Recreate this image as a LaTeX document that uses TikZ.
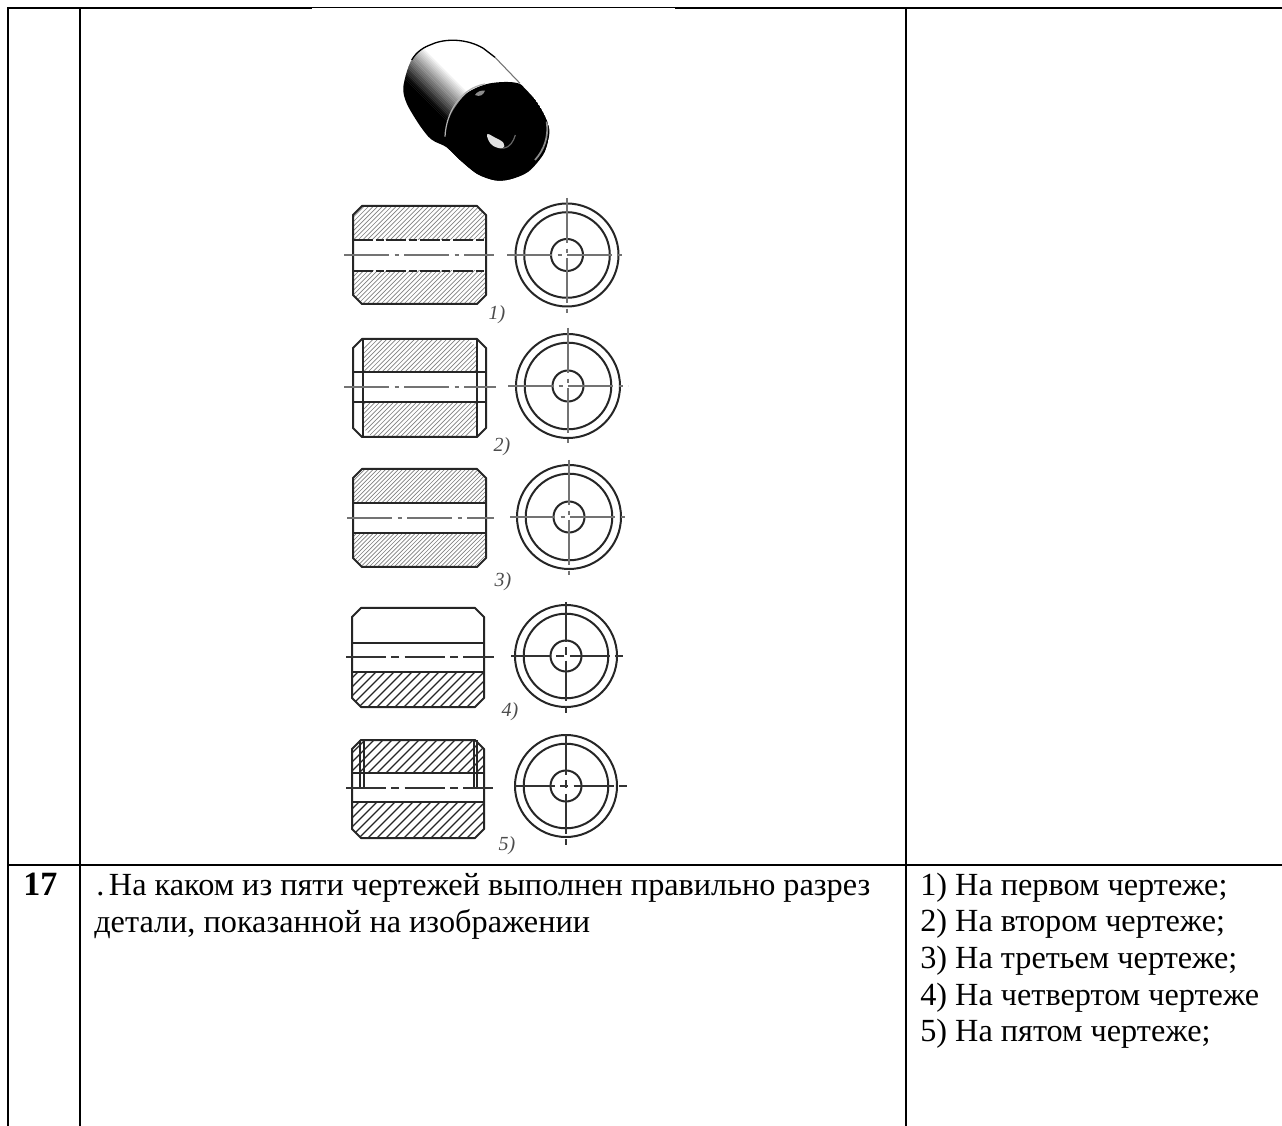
\documentclass[tikz,border=0pt]{standalone}
\usepackage{fontspec}
\setmainfont{Liberation Serif}
\tikzset{
  rule/.style={line width=1.5pt,black},
  thinrule/.style={line width=0.9pt,black},
  celltext/.style={anchor=base west,inner sep=0pt,font=\fontsize{24.2}{29}\selectfont,text=black},
  boldtext/.style={anchor=base west,inner sep=0pt,font=\fontsize{25.5}{30}\selectfont\bfseries,text=black},
  figlabel/.style={inner sep=0pt,font=\fontsize{15}{17}\selectfont\itshape,text=black!70},
  outline/.style={line width=1.5pt,black!85,line join=round},
  holeline/.style={line width=1.5pt,black!85},
  lighthatch/.style={line width=0.5pt,black!50},
  darkhatch/.style={line width=0.9pt,black!85},
  axisgray/.style={line width=0.9pt,black!55,dash pattern=on 34pt off 4pt on 3pt off 4pt},
  axisdark/.style={line width=1pt,black!80,dash pattern=on 30pt off 4pt on 6pt off 4pt},
}
% x1 x2 y1 y2 ya yb pitch style
\newcommand\hatchband[8]{%
  \begin{scope}
    \clip (#1+9,#3) -- (#2-9,#3) -- (#2,#3+9) -- (#2,#4-9) -- (#2-9,#4) -- (#1+9,#4) -- (#1,#4-9) -- (#1,#3+9) -- cycle;
    \clip (#1,#5) rectangle (#2,#6);
    \foreach \i in {0,...,60} \draw[#8] (#1-110+\i*#7,#6) -- ++(120,-120);
  \end{scope}}
\newcommand\bodyoutline[4]{%
  \draw[outline] (#1+9,#3) -- (#2-9,#3) -- (#2,#3+9) -- (#2,#4-9) -- (#2-9,#4) -- (#1+9,#4) -- (#1,#4-9) -- (#1,#3+9) -- cycle;}
% cx cy R r xa xb ya yb axisstyle
\newcommand\roundview[9]{%
  \draw[outline] (#1,#2) circle (#3);
  \draw[outline] (#1,#2) circle (#3-8.7);
  \draw[outline] (#1,#2) circle (#4);
  \draw[#9] (#5,#2) -- (#6,#2);
  \draw[#9] (#1,#7) -- (#1,#8);}
\begin{document}
\begin{tikzpicture}[x=0.75pt,y=-0.75pt]
\path[use as bounding box,fill=white] (0,0) rectangle (1282,1126);

% table rules
\draw[rule] (7,8.5) -- (312,8.5);
\draw[thinrule] (312,7.5) -- (675,7.5);
\draw[rule] (675,8.5) -- (1282,8.5);
\draw[rule] (8,8) -- (8,1126);
\draw[rule] (80,8) -- (80,1126);
\draw[rule] (906,8) -- (906,1126);
\draw[rule] (7,864.5) -- (312,864.5);
\draw[thinrule] (312,865) -- (675,865);
\draw[rule] (675,864.5) -- (1282,864.5);

% pictorial view
\begin{scope}[shift={(320,0)},x=0.25pt,y=-0.25pt]
  \begin{scope}
    \clip plot[smooth cycle,tension=0.5] coordinates {(400,120)(470,130)(525,172)(600,250)(650,305)(680,360)(688,400)(672,460)(625,515)(570,538)(525,541)(472,522)(420,480)(380,442)(345,425)(325,410)(295,370)(260,310)(250,260)(275,180)(330,135)};
    \fill[white] (200,80) rectangle (720,560);
    \begin{scope}[rotate around={45:(0,0)}]
      \fill[black] (-100,0) rectangle (12,1000);
      \foreach \i in {0,...,21} {
        \pgfmathtruncatemacro\shadepct{\i*100/21}
        \fill[white!\shadepct!black] (12+\i*5,0) rectangle (17.5+\i*5,1000);
      }
    \end{scope}
    % front face
    \fill[black] plot[smooth cycle,tension=0.5] coordinates {(372,412)(395,340)(440,280)(510,250)(600,252)(660,320)(690,390)(672,465)(625,520)(540,550)(470,525)(400,465)};
  \end{scope}
  \draw[line width=1pt,black] (275,180) .. controls (290,155) and (310,142) .. (335,133) .. controls (375,115) and (440,115) .. (490,145) -- (525,172);
  \draw[line width=0.8pt,black!55] (525,172) -- (600,250);
  \draw[line width=0.9pt,black!30] (375,410) .. controls (378,340) and (420,265) .. (495,252);
  \fill[black!45] (465,285) .. controls (470,275) and (485,270) .. (495,272) .. controls (490,285) and (480,292) .. (465,285) -- cycle;
  \fill[black!12] plot[smooth cycle,tension=0.7] coordinates {(502,402)(520,410)(550,428)(548,445)(520,438)(505,420)};
  \draw[line width=0.9pt,black!60] (550,445) .. controls (570,442) and (580,425) .. (586,405);
  \draw[line width=1.3pt,black!45] (680,365) .. controls (687,410) and (672,450) .. (645,480);
\end{scope}

% view 1
\hatchband{353}{486}{206}{304}{206}{240}{4.6}{lighthatch}
\hatchband{353}{486}{206}{304}{271}{304}{4.6}{lighthatch}
\bodyoutline{353}{486}{206}{304}
\draw[holeline,dash pattern=on 15pt off 2pt on 6pt off 2pt] (353,240.5) -- (486,240.5);
\draw[holeline,dash pattern=on 15pt off 2pt on 6pt off 2pt] (353,271) -- (486,271);
\draw[axisgray] (344,255) -- (494,255);
\roundview{567}{255}{51.5}{16}{507}{626}{198}{313}{axisgray}
\node[figlabel] (lab1) at (497,315) {1)};

% view 2
\hatchband{363}{477}{339}{437}{339}{372}{4.6}{lighthatch}
\hatchband{363}{477}{339}{437}{403}{437}{4.6}{lighthatch}
\bodyoutline{353}{486}{339}{437}
\draw[holeline] (353,372.5) -- (486,372.5);
\draw[holeline] (353,402.5) -- (486,402.5);
\draw[holeline] (363,339) -- (363,437);
\draw[holeline] (477,339) -- (477,437);
\draw[axisgray] (344,387) -- (496,387);
\roundview{568}{386}{52}{15.5}{508}{628}{328}{445}{axisgray}
\node[figlabel] (lab2) at (502,447) {2)};

% view 3
\hatchband{353}{486}{469}{567}{469}{503}{4.2}{lighthatch}
\hatchband{353}{486}{469}{567}{533}{567}{4.2}{lighthatch}
\bodyoutline{353}{486}{469}{567}
\draw[holeline] (353,503) -- (486,503);
\draw[holeline] (353,533) -- (486,533);
\draw[axisgray] (347,518) -- (494,518);
\roundview{569}{517}{52}{15.5}{510}{628}{460}{575}{axisgray}
\node[figlabel] (lab3) at (503,582) {3)};

% view 4
\hatchband{352}{484}{608}{707}{672}{707}{9}{darkhatch}
\bodyoutline{352}{484}{608}{707}
\draw[holeline] (352,643) -- (484,643);
\draw[holeline] (352,672) -- (484,672);
\draw[axisdark] (346,657) -- (494,657);
\roundview{566}{656}{51}{15.5}{511}{628}{602}{713}{axisdark}
\node[figlabel] (lab4) at (510,712) {4)};

% view 5
\hatchband{352}{484}{740}{838}{740}{773}{9}{darkhatch}
\hatchband{352}{484}{740}{838}{802}{838}{9}{darkhatch}
\bodyoutline{352}{484}{740}{838}
\draw[holeline] (352,773) -- (484,773);
\draw[holeline] (352,802) -- (484,802);
\draw[holeline] (360,740) -- (360,787);
\draw[holeline] (363.5,740) -- (363.5,787);
\draw[holeline] (473.5,740) -- (473.5,787);
\draw[holeline] (477,740) -- (477,787);
\draw[axisdark] (346,788) -- (493,788);
\roundview{566}{786}{51}{15.5}{515}{632}{735}{845}{axisdark}
\node[figlabel] (lab5) at (507,846) {5)};

% table text
\node[boldtext] (num) at (23,895) {17};
\node[celltext] (q1) at (96,895.5) {.\hspace{3.5pt}На каком из пяти чертежей выполнен правильно разрез};
\node[celltext] (q2) at (94,932) {детали, показанной на изображении};
\node[celltext] (a1) at (920,895) {1) На первом чертеже;};
\node[celltext] (a2) at (920,931.7) {2) На втором чертеже;};
\node[celltext] (a3) at (920,968.4) {3) На третьем чертеже;};
\node[celltext] (a4) at (920,1005.1) {4) На четвертом чертеже};
\node[celltext] (a5) at (920,1041.8) {5) На пятом чертеже;};
\end{tikzpicture}
\end{document}
